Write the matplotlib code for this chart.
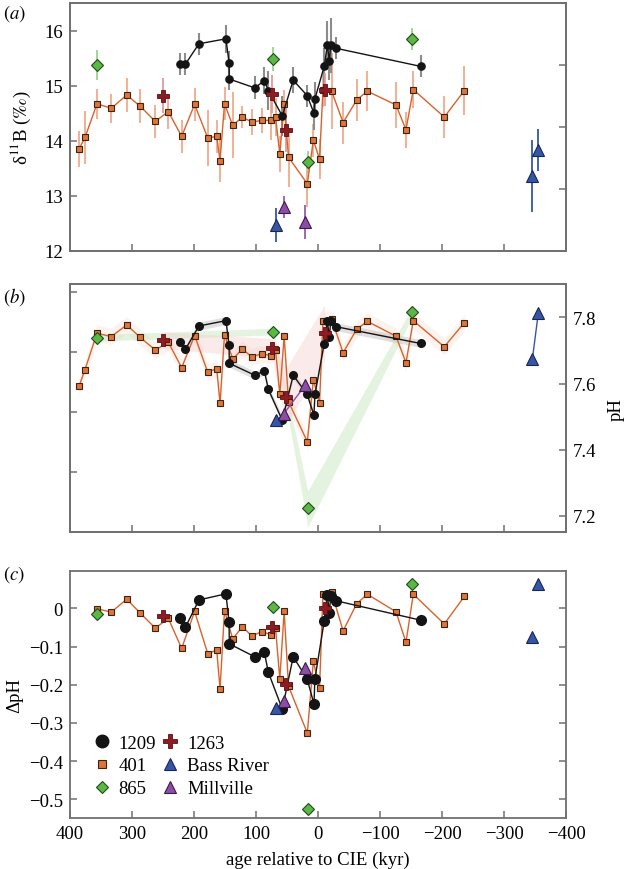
import numpy as np
import matplotlib
matplotlib.use("Agg")
import matplotlib.pyplot as plt
from matplotlib.ticker import FuncFormatter
from matplotlib.lines import Line2D

plt.rcParams["font.family"] = ["Liberation Serif", "DejaVu Serif"]
plt.rcParams["mathtext.fontset"] = "stix"
plt.rcParams["axes.unicode_minus"] = True

nan = np.nan

# ---- site 401 (orange squares)
age_401 = [385.5, 375.8, 356.5, 333.4, 308.6, 287, 262.4, 241.5, 219.9, 199, 177.8, 163.4,
           158, 150.8, 137.6, 122, 107, 90, 75.8, 68.5, 61.6, 54.6, 47.5, 17.2, 7.5, -2.5,
           -8, -22, -40.5, -62.4, -79.5, -125.8, -141.9, -153.7, -203.7, -236]
d11b_401 = [13.85, 14.06, 14.67, 14.59, 14.83, 14.63, 14.35, 14.53, 14.08, 14.66, 14.05, 14.08,
            13.64, 14.67, 14.28, 14.43, 14.34, 14.37, 14.37, 14.43, 13.76, 14.66, 13.70, 13.22,
            14.01, 13.67, 14.92, 14.90, 14.33, 14.74, 14.90, 14.65, 14.20, 14.93, 14.43, 14.91]
d11b_401_err = [0.33, 0.48, 0.27, 0.26, 0.31, 0.31, 0.30, 0.32, 0.30, 0.30, 0.51, 0.30,
                0.38, 0.30, 0.60, 0.20, 0.24, 0.22, 0.36, 0.35, 0.33, 0.27, 0.53, 0.42,
                0.30, 0.36, 0.30, 0.69, 0.38, 0.38, 0.36, 0.41, 0.33, 0.33, 0.38, 0.44]
ph_401 = [7.591, 7.642, 7.752, 7.742, 7.777, 7.740, 7.701, 7.725, 7.648, 7.745, 7.634, 7.645,
          7.540, 7.748, 7.674, 7.704, 7.681, 7.690, 7.684, 7.702, 7.567, 7.743, 7.545, 7.424,
          7.612, 7.542, 7.790, 7.795, 7.693, 7.764, 7.788, 7.743, 7.663, 7.790, 7.711, 7.784]
dph_401 = [nan, nan, -0.001, -0.010, 0.024, -0.012, -0.052, -0.026, -0.105, -0.008, -0.119, -0.109,
           -0.211, -0.006, -0.080, -0.048, -0.072, -0.061, -0.069, -0.052, -0.185, -0.008, -0.204, -0.327,
           -0.139, -0.209, 0.038, 0.042, -0.059, 0.012, 0.037, -0.009, -0.089, 0.037, -0.041, 0.031]

# ---- site 1209 (black circles)
age_1209 = [222, 214, 192, 148.5, 143.5, 143, 102, 86.6, 80, 57.6, 40, 17.5, 6.5, 5,
            -10, -15, -18.3, -20.5, -28.5, -165.6]
d11b_1209 = [15.39, 15.39, 15.76, 15.85, 15.42, 15.12, 14.96, 15.09, 14.91, 14.45, 15.10, 14.82,
             14.50, 14.76, 15.35, 15.73, 15.45, 15.73, 15.68, 15.35]
d11b_1209_err = [0.20, 0.20, 0.20, 0.25, 0.20, 0.20, 0.21, 0.25, 0.36, 0.37, 0.24, 0.20,
                 0.30, 0.30, 0.33, 0.45, 0.35, 0.50, 0.20, 0.20]
ph_1209 = [7.727, 7.703, 7.774, 7.790, 7.717, 7.661, 7.625, 7.638, 7.582, 7.489, 7.625, 7.567,
           7.504, 7.567, 7.720, 7.789, 7.741, 7.789, 7.772, 7.721]
dph_1209 = [-0.026, -0.050, 0.022, 0.038, -0.035, -0.093, -0.127, -0.115, -0.168, -0.264, -0.127,
            -0.185, -0.251, -0.185, -0.034, 0.036, -0.012, 0.031, 0.020, -0.031]

# ---- site 865 (green diamonds)
age_865 = [357, 72, 16.5, -151.8]
d11b_865 = [15.37, 15.48, 13.61, 15.85]
d11b_865_err = [0.27, 0.22, 0.20, 0.20]
ph_865 = [7.738, 7.757, 7.223, 7.816]
ph_865_lo = [7.728, 7.747, 7.166, 7.800]
ph_865_hi = [7.748, 7.767, 7.275, 7.830]
dph_865 = [-0.015, 0.004, -0.525, 0.063]

# ---- site 1263 (red crosses)
age_1263 = [250, 74, 52, -10.5]
d11b_1263 = [14.82, 14.85, 14.19, 14.93]
d11b_1263_err = [0.32, 0.35, 0.40, 0.30]
ph_1263 = [7.731, 7.706, 7.560, 7.752]
ph_1263_band = [0.025, 0.03, 0.085, 0.085]
dph_1263 = [-0.021, -0.049, -0.199, 0.000]

# ---- Bass River (blue triangles)
age_bass = [67.7, -345.7, -355.4]
d11b_bass = [12.47, 13.36, 13.84]
d11b_bass_err = [0.31, 0.66, 0.38]
ph_bass = [7.489, 7.673, 7.814]
dph_bass = [-0.261, -0.076, 0.064]

# ---- Millville (purple triangles)
age_mill = [55, 20.5]
d11b_mill = [12.80, 12.53]
d11b_mill_err = [0.20, 0.31]
ph_mill = [7.509, 7.595]
dph_mill = [-0.242, -0.155]

band_401 = 0.025
band_1209 = 0.012

C_OR, C_OR_E, C_OR_L = "#E0743A", "#F2A98A", "#D9622B"
C_BK, C_BK_E = "#141414", "#8c8c8c"
C_GR, C_GR_E = "#5CB844", "#97d48e"
C_RD, C_RD_E = "#8E1B22", "#e39a9a"
C_BL, C_BL_E = "#3556A8", "#3556A8"
C_PU, C_PU_E = "#8D4DA6", "#9a5ab5"
SPINE = "#707070"
FS = 13.5

fig = plt.figure(figsize=(6.27, 8.70), dpi=100)
L, W = 70 / 627, 496 / 627
ax_a = fig.add_axes([L, 1 - 252 / 870, W, 248 / 870])
ax_b = fig.add_axes([L, 1 - 533.3 / 870, W, 248 / 870])
ax_c = fig.add_axes([L, 1 - 819.3 / 870, W, 247 / 870])


def style(ax):
    for s in ax.spines.values():
        s.set_color(SPINE)
        s.set_linewidth(1.3)
    ax.tick_params(direction="in", length=5, width=1.1, color=SPINE, labelsize=FS, pad=5)
    ax.set_xlim(400, -400)
    ax.set_xticks(np.arange(-400, 401, 100))


def sq(ms):
    return dict(marker="s", ms=ms, mfc=C_OR, mec="#3a2414", mew=0.8)


# ---------------- panel a
ax = ax_a
style(ax)
ax.errorbar(age_401, d11b_401, yerr=d11b_401_err, fmt="none", ecolor=C_OR_E, elinewidth=1.3, zorder=1)
ax.errorbar(age_1209, d11b_1209, yerr=d11b_1209_err, fmt="none", ecolor=C_BK_E, elinewidth=1.5, zorder=1)
ax.errorbar(age_865, d11b_865, yerr=d11b_865_err, fmt="none", ecolor=C_GR_E, elinewidth=1.3, zorder=1)
ax.errorbar(age_1263, d11b_1263, yerr=d11b_1263_err, fmt="none", ecolor=C_RD_E, elinewidth=1.3, zorder=1)
ax.errorbar(age_bass, d11b_bass, yerr=d11b_bass_err, fmt="none", ecolor=C_BL_E, elinewidth=1.3, zorder=1)
ax.errorbar(age_mill, d11b_mill, yerr=d11b_mill_err, fmt="none", ecolor=C_PU_E, elinewidth=1.3, zorder=1)
ax.plot(age_401, d11b_401, "-", color=C_OR_L, lw=1.0, zorder=2, **sq(5))
ax.plot(age_1209, d11b_1209, "-o", color=C_BK, lw=1.0, ms=5.2, zorder=3)
ax.plot(age_865, d11b_865, "D", ls="none", ms=6, mfc=C_GR, mec="#1f4a1a", mew=0.8, zorder=4)
ax.plot(age_1263, d11b_1263, "P", ls="none", ms=8, mfc=C_RD, mec="#5a0f12", mew=0.6, zorder=4)
ax.plot(age_bass, d11b_bass, "^", ls="none", ms=8, mfc=C_BL, mec="#1a2550", mew=0.8, zorder=4)
ax.plot(age_mill, d11b_mill, "^", ls="none", ms=8, mfc=C_PU, mec="#3a1a4a", mew=0.8, zorder=4)
ax.set_ylim(12, 16.5)
ax.set_yticks([12, 13, 14, 15, 16])
ax.tick_params(labelbottom=False)
ax.set_ylabel(r"δ$^{11}$B ($\it{‰}$)", fontsize=FS, labelpad=8)
tw = ax.twinx()
style(tw)
tw.set_ylim(0, 4)
tw.set_yticks([1, 2, 3])
tw.tick_params(labelright=False)

# ---------------- panel b
ax = ax_b
style(ax)
ax.fill_between(age_401, np.array(ph_401) - band_401, np.array(ph_401) + band_401,
                color="#f4c4b4", alpha=0.22, lw=0, zorder=0)
ax.fill_between(age_1209, np.array(ph_1209) - band_1209, np.array(ph_1209) + band_1209,
                color="#9a9a9a", alpha=0.3, lw=0, zorder=0)
ax.fill_between(age_865, ph_865_lo, ph_865_hi, color="#c4e6b8", alpha=0.45, lw=0, zorder=0)
ax.fill_between(age_1263, np.array(ph_1263) - np.array(ph_1263_band),
                np.array(ph_1263) + np.array(ph_1263_band), color="#f4cccc", alpha=0.4, lw=0, zorder=0)
ax.plot(age_401, ph_401, "-", color=C_OR_L, lw=1.0, zorder=2, **sq(5))
ax.plot(age_1209, ph_1209, "-o", color=C_BK, lw=1.0, ms=5.5, zorder=3)
ax.plot(age_865, ph_865, "D", ls="none", ms=6, mfc=C_GR, mec="#1f4a1a", mew=0.8, zorder=4)
ax.plot(age_1263, ph_1263, "P", ls="none", ms=8, mfc=C_RD, mec="#5a0f12", mew=0.6, zorder=4)
ax.plot(age_bass[:1], ph_bass[:1], "^", ls="none", ms=8.5, mfc=C_BL, mec="#1a2550", mew=0.8, zorder=4)
ax.plot(age_bass[1:], ph_bass[1:], "-^", color=C_BL, lw=1.0, ms=8.5, mfc=C_BL, mec="#1a2550", mew=0.8, zorder=4)
ax.plot(age_mill, ph_mill, "-^", color=C_PU, lw=1.0, ms=8.5, mfc=C_PU, mec="#3a1a4a", mew=0.8, zorder=5)
ax.set_ylim(7.15, 7.9)
ax.set_yticks([7.2, 7.4, 7.6, 7.8])
ax.tick_params(labelbottom=False)
tw = ax.twinx()
style(tw)
tw.set_ylim(0, 4.12)
tw.set_yticks([1, 2, 3, 4])
tw.yaxis.tick_left()
tw.tick_params(labelleft=False, labelright=False)
ax.yaxis.tick_right()
ax.yaxis.set_label_position("right")
ax.set_ylabel("pH", fontsize=FS, labelpad=8)

# ---------------- panel c
ax = ax_c
style(ax)
ax.plot(age_401, dph_401, "-", color=C_OR_L, lw=1.0, zorder=2, **sq(5))
ax.plot(age_1209, dph_1209, "-o", color=C_BK, lw=1.0, ms=7, zorder=3)
ax.plot(age_865, dph_865, "D", ls="none", ms=6, mfc=C_GR, mec="#1f4a1a", mew=0.8, zorder=4)
ax.plot(age_1263, dph_1263, "P", ls="none", ms=8.5, mfc=C_RD, mec="#5a0f12", mew=0.6, zorder=4)
ax.plot(age_bass, dph_bass, "^", ls="none", ms=8.5, mfc=C_BL, mec="#1a2550", mew=0.8, zorder=4)
ax.plot(age_mill, dph_mill, "^", ls="none", ms=8.5, mfc=C_PU, mec="#3a1a4a", mew=0.8, zorder=4)
ax.set_ylim(-0.55, 0.097)
ax.set_yticks([-0.5, -0.4, -0.3, -0.2, -0.1, 0])
ax.yaxis.set_major_formatter(FuncFormatter(
    lambda v, p: "0" if abs(v) < 1e-9 else f"{v:.1f}".replace("-", "\u2212")))
ax.xaxis.set_major_formatter(FuncFormatter(
    lambda v, p: f"{v:.0f}".replace("-", "\u2212")))
ax.tick_params(right=True)
ax.set_ylabel("ΔpH", fontsize=FS, labelpad=4)
ax.set_xlabel("age relative to CIE (kyr)", fontsize=FS, labelpad=6)

handles = [
    Line2D([], [], ls="none", marker="o", ms=9, color=C_BK),
    Line2D([], [], ls="none", **sq(6)),
    Line2D([], [], ls="none", marker="D", ms=6.5, mfc=C_GR, mec="#1f4a1a", mew=0.8),
    Line2D([], [], ls="none", marker="P", ms=10, mfc=C_RD, mec="#5a0f12", mew=0.6),
    Line2D([], [], ls="none", marker="^", ms=9, mfc=C_BL, mec="#1a2550", mew=0.8),
    Line2D([], [], ls="none", marker="^", ms=9, mfc=C_PU, mec="#3a1a4a", mew=0.8),
]
labels = ["1209", "401", "865", "1263", "Bass River", "Millville"]
ax.legend(handles, labels, ncol=2, loc="lower left", bbox_to_anchor=(0.03, 0.055),
          frameon=False, fontsize=FS, handlelength=1.0, handletextpad=0.4,
          columnspacing=0.25, labelspacing=0.3, borderaxespad=0)

for lab, ypx in [("a", 14), ("b", 297), ("c", 575)]:
    fig.text(3 / 627, 1 - ypx / 870, f"$({lab})$", fontsize=FS, va="center", ha="left")

fig.savefig("out.png", dpi=100)
